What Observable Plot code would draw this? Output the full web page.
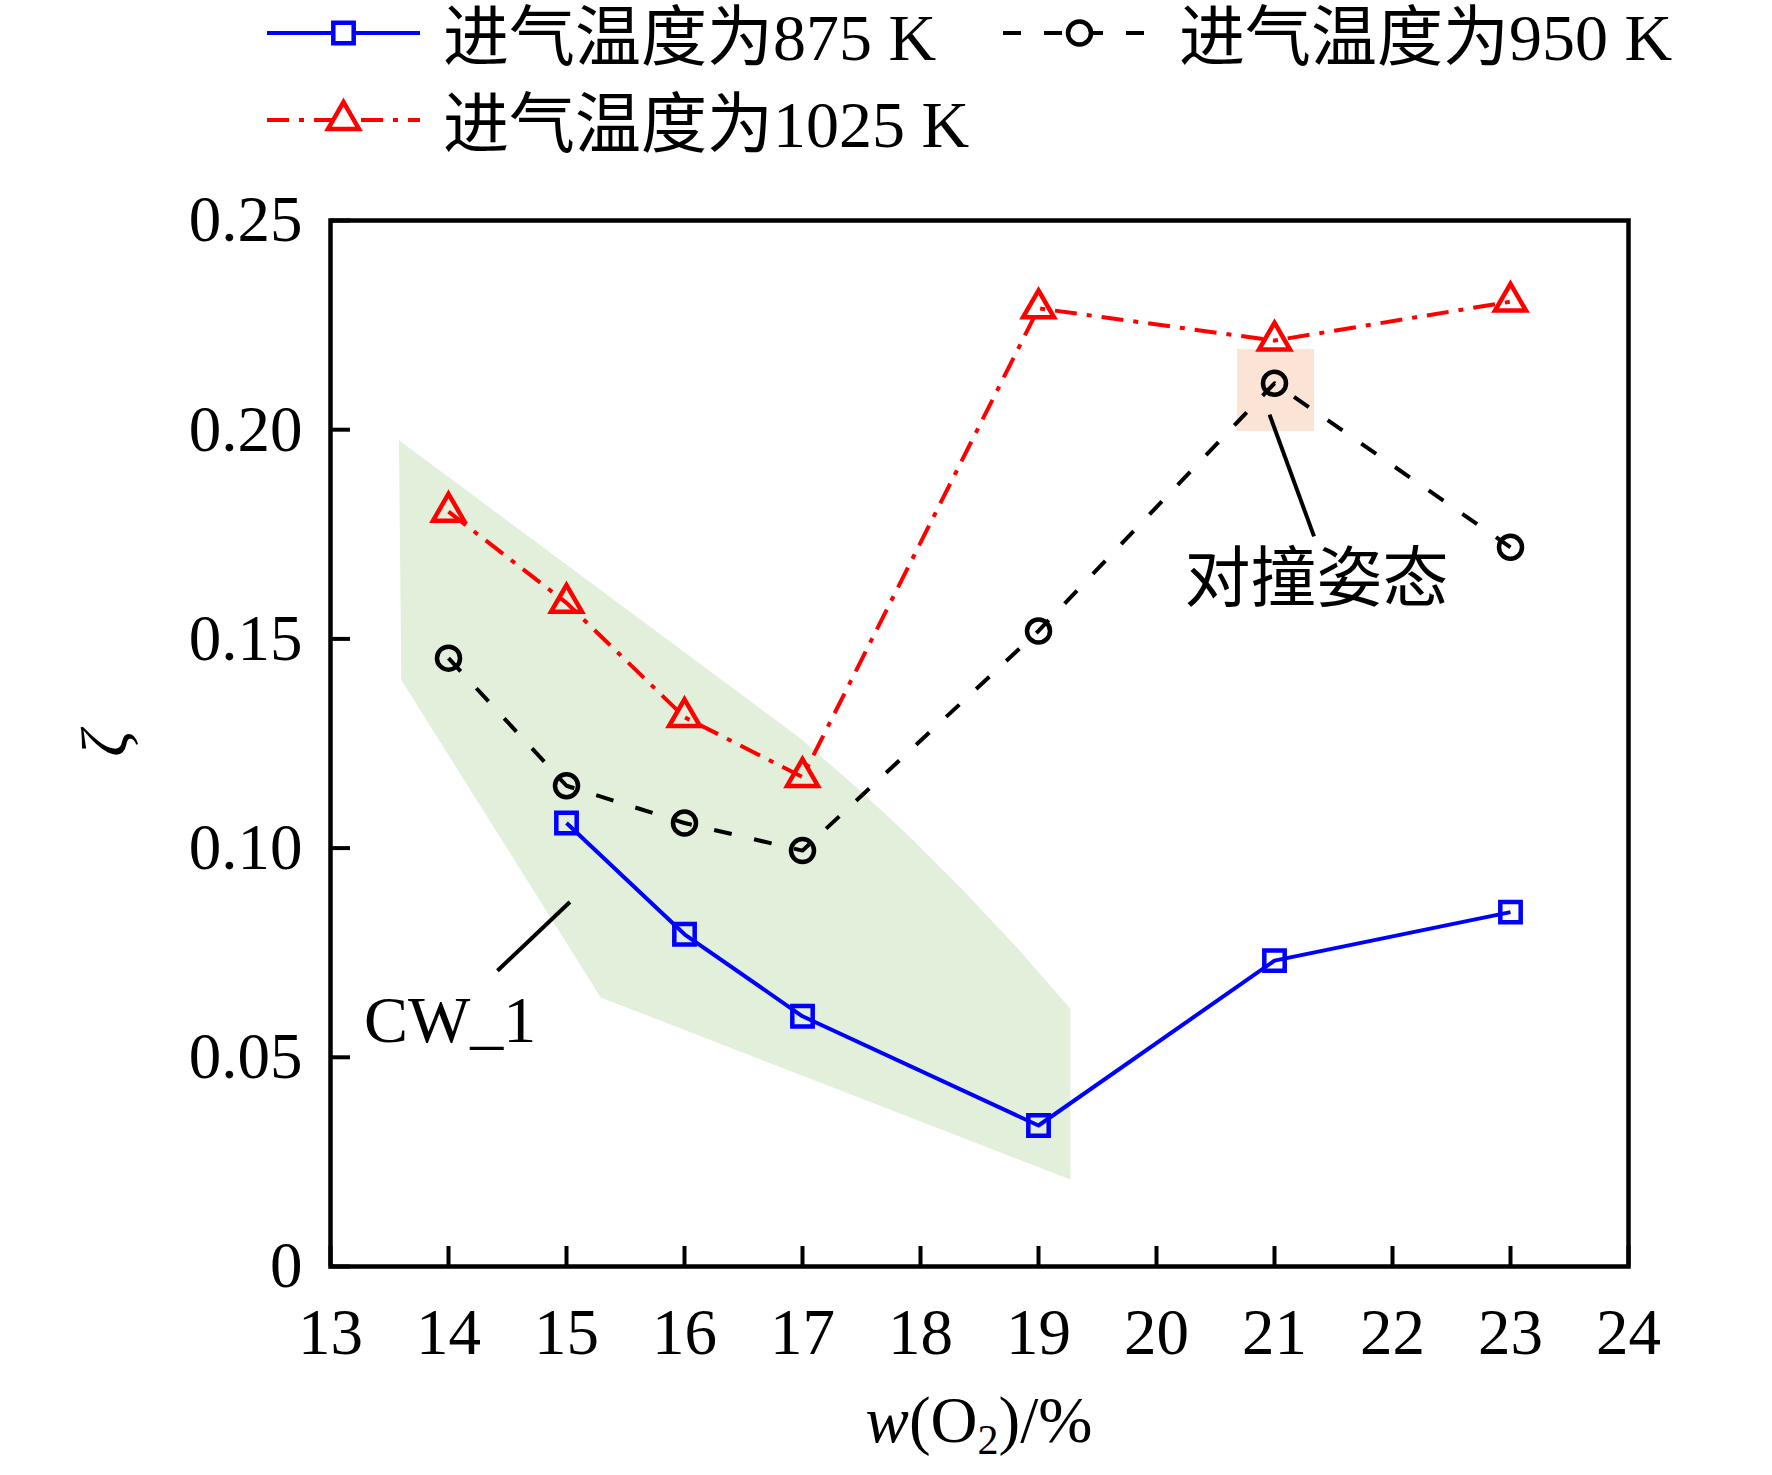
<!DOCTYPE html>
<html><head><meta charset="utf-8">
<script src="https://cdn.jsdelivr.net/npm/d3@7"></script>
<script src="https://cdn.jsdelivr.net/npm/@observablehq/plot@0.6"></script>
<style>
body{margin:0;background:#fff;}
#wrap{position:relative;width:1772px;height:1475px;background:#fff;}
.leg{position:absolute;font-family:"Liberation Serif","Noto Sans CJK SC",serif;font-size:66px;line-height:66px;white-space:nowrap;color:#000;}
.sw{position:absolute;overflow:visible;}
</style></head><body><div id="wrap"></div>
<script>
// ---- data ----
const x875 = [15, 16, 17, 19, 21, 23];
const zeta875 = [0.106, 0.0794, 0.0598, 0.0337, 0.0731, 0.0847];
const x950 = [14, 15, 16, 17, 19, 21, 23];
const zeta950 = [0.1454, 0.1149, 0.106, 0.0994, 0.1519, 0.2111, 0.1719];
const x1025 = [14, 15, 16, 17, 19, 21, 23];
const zeta1025 = [0.1804, 0.1586, 0.1313, 0.117, 0.229, 0.2213, 0.2306];
const seriesNames = ["进气温度为875 K", "进气温度为950 K", "进气温度为1025 K"];
const xTicks = [13, 14, 15, 16, 17, 18, 19, 20, 21, 22, 23, 24];
const yTicks = [0, 0.05, 0.10, 0.15, 0.20, 0.25];
// CW_1 region outline (data units)
const cwX = [13.58, 13.60, 15.29, 19.27, 19.27, 18.79, 18.36, 17.93, 17.49, 16.97];
const cwY = [0.1975, 0.1402, 0.0643, 0.0208, 0.0616, 0.0771, 0.0899, 0.1021, 0.1137, 0.1265];
// highlight box around 21 %
const boxX = [20.686, 21.339];
const boxY = [0.1996, 0.2192];
// annotations
const annoText = ["CW_1", "对撞姿态"];
const annoTextX = [14.013, 21.356];
const annoTextY = [0.0586, 0.1642];
const leaderX1 = [15.029, 20.958], leaderY1 = [0.0871, 0.2036];
const leaderX2 = [14.415, 21.335], leaderY2 = [0.0707, 0.1745];

const toRows = (xs, ys) => xs.map((x, i) => ({x, y: ys[i]}));
const d875 = toRows(x875, zeta875);
const d950 = toRows(x950, zeta950);
const d1025 = toRows(x1025, zeta1025);
const cwPoly = toRows(cwX, cwY);
const box = [{x1: boxX[0], x2: boxX[1], y1: boxY[0], y2: boxY[1]}];
const annos = annoText.map((t, i) => ({t, x: annoTextX[i], y: annoTextY[i]}));
const leaders = leaderX1.map((_, i) => ({x1: leaderX1[i], y1: leaderY1[i], x2: leaderX2[i], y2: leaderY2[i]}));

const styles = [
  {stroke: "#0000ff", dash: null, symbol: "square", r: 11.5},
  {stroke: "#000000", dash: "18,23", symbol: "circle", r: 11.5},
  {stroke: "#ff0000", dash: "22,10,5,10", symbol: "triangle", r: 11.5}
];
const datasets = [d875, d950, d1025];

const marks = [
  Plot.line(cwPoly, {x: "x", y: "y", fill: "#e2efda", stroke: "none", curve: "linear-closed"}),
  Plot.rect(box, {x1: "x1", x2: "x2", y1: "y1", y2: "y2", fill: "#fbe3d5"}),
  Plot.axisX({ticks: xTicks, tickSize: -20, strokeWidth: 4, tickFormat: () => "", label: null}),
  Plot.axisY({ticks: yTicks, tickSize: -20, strokeWidth: 4, tickFormat: () => "", label: null}),
  Plot.axisX({ticks: xTicks, tickSize: 0, tickPadding: 41, label: null, fontSize: 65, tickFormat: d => String(d)}),
  Plot.axisY({ticks: yTicks, tickSize: 0, tickPadding: 28, label: null, fontSize: 65, tickFormat: d => d === 0 ? "0" : d.toFixed(2)}),
  Plot.frame({strokeWidth: 4.5, stroke: "black"}),
  Plot.text(["ζ"], {frameAnchor: "left", dx: -224, rotate: -90, fontStyle: "italic", fontSize: 65, textAnchor: "middle", lineAnchor: "middle"}),
  Plot.link(leaders, {x1: "x1", y1: "y1", x2: "x2", y2: "y2", stroke: "black", strokeWidth: 4}),
  Plot.text(annos, {x: "x", y: "y", text: "t", fontSize: 66, fontFamily: "Liberation Serif, Noto Sans CJK SC, serif", textAnchor: "middle", lineAnchor: "middle"})
];
datasets.forEach((d, i) => {
  const s = styles[i];
  marks.push(Plot.line(d, {x: "x", y: "y", stroke: s.stroke, strokeWidth: 4, strokeDasharray: s.dash, strokeLinecap: "butt"}));
  marks.push(Plot.dot(d, {x: "x", y: "y", symbol: s.symbol, r: s.r, stroke: s.stroke, strokeWidth: 4.5, fill: "none"}));
});

const chart = Plot.plot({
  width: 1772, height: 1475,
  marginLeft: 330, marginRight: 144, marginTop: 220, marginBottom: 209,
  style: {fontFamily: "Liberation Serif, serif", fontSize: "65px", background: "white", color: "black", overflow: "visible"},
  x: {domain: [13, 24]},
  y: {domain: [0, 0.25]},
  marks
});
// x-axis title with italic w and subscript 2
const xl = d3.select(chart).append("text")
  .attr("x", (330 + 1628) / 2).attr("y", 1442).attr("text-anchor", "middle")
  .attr("font-family", "Liberation Serif, serif").attr("font-size", 65).attr("fill", "black");
xl.append("tspan").attr("font-style", "italic").text("w");
xl.append("tspan").text("(O");
xl.append("tspan").attr("font-size", 42).attr("dy", 12).text("2");
xl.append("tspan").attr("dy", -12).text(")/%");

const wrap = document.getElementById("wrap");
wrap.appendChild(chart);
chart.style.position = "absolute"; chart.style.left = "0"; chart.style.top = "0";

// legend
const legendItems = [
  {i: 0, left: 267, top: 33, textLeft: 443},
  {i: 1, left: 1003, top: 33, textLeft: 1179},
  {i: 2, left: 267, top: 120, textLeft: 443}
];
legendItems.forEach(it => {
  const s = styles[it.i];
  const w = 153;
  const svg = d3.create("svg").attr("class", "sw").attr("width", w).attr("height", 40)
    .style("left", it.left + "px").style("top", (it.top - 20) + "px");
  svg.append("line").attr("x1", 0).attr("x2", w).attr("y1", 20).attr("y2", 20)
    .attr("stroke", s.stroke).attr("stroke-width", 4).attr("stroke-dasharray", s.dash);
  const sym = {square: d3.symbolSquare, circle: d3.symbolCircle, triangle: d3.symbolTriangle}[s.symbol];
  svg.append("path").attr("d", d3.symbol(sym, Math.PI * s.r * s.r)())
    .attr("transform", `translate(${w / 2},20)`)
    .attr("fill", "white").attr("stroke", s.stroke).attr("stroke-width", 4.5);
  wrap.appendChild(svg.node());
  const t = document.createElement("div");
  t.className = "leg";
  t.style.left = it.textLeft + "px";
  t.style.top = (it.top - 28) + "px";
  t.textContent = seriesNames[it.i];
  wrap.appendChild(t);
});
</script>
</body></html>
